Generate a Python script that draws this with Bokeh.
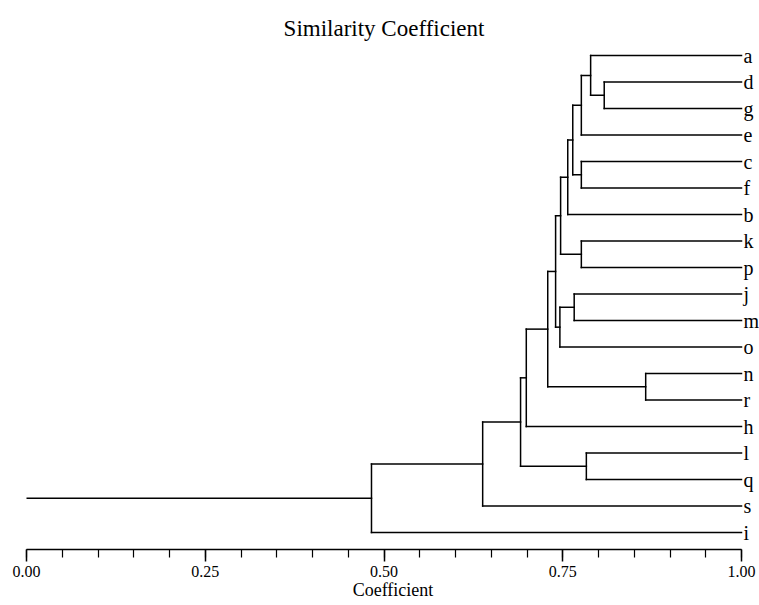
from bokeh.plotting import figure
from bokeh.models import Range1d, SingleIntervalTicker, PrintfTickFormatter
from bokeh.core.properties import value
from bokeh.embed import file_html
from bokeh.resources import INLINE

title_text = "Similarity Coefficient"
axis_title = "Coefficient"
tick_interval = 0.25

leaves = ["a", "d", "g", "e", "c", "f", "b", "k", "p", "j", "m", "o", "n", "r", "h", "l", "q", "s", "i"]
# merge k is called "M{k+1}"
merge_left = ["d", "a", "M2", "c", "M3", "M5", "k", "M6", "j", "M9", "M8", "n", "M11", "M13", "l", "M14", "M16", "M17"]
merge_right = ["g", "M1", "e", "f", "M4", "b", "p", "M7", "m", "o", "M10", "r", "M12", "h", "q", "M15", "s", "i"]
merge_sim = [0.808, 0.789, 0.776, 0.776, 0.764, 0.757, 0.776, 0.747, 0.766, 0.746, 0.740, 0.866, 0.729, 0.699, 0.783, 0.691, 0.638, 0.4825]

FONT = "Liberation Serif"

# build dendrogram segments from the merge table
pos = {name: (1.0, float(i)) for i, name in enumerate(leaves)}
x0, y0, x1, y1 = [], [], [], []
for k, (l, r, h) in enumerate(zip(merge_left, merge_right, merge_sim)):
    xl, yl = pos[l]
    xr, yr = pos[r]
    x0 += [h, h, h]
    y0 += [yl, yr, yl]
    x1 += [xl, xr, h]
    y1 += [yl, yr, yr]
    pos["M%d" % (k + 1)] = (h, (yl + yr) / 2.0)
root_x, root_y = pos["M%d" % len(merge_sim)]
x0.append(0.0); y0.append(root_y); x1.append(root_x); y1.append(root_y)

n = len(leaves)
p = figure(width=759, height=605,
           x_range=Range1d(0, 1.02517), y_range=Range1d(18.64, -2.076),
           y_axis_type=None, output_backend="svg", toolbar_location=None,
           min_border_left=26, min_border_right=0, min_border_top=0, min_border_bottom=56)
p.outline_line_color = None
p.xgrid.visible = False
p.ygrid.visible = False
p.background_fill_color = "white"

p.segment(x0=x0, y0=y0, x1=x1, y1=y1, line_color="black", line_width=1.5, line_cap="square")

p.text(x=[1.0] * n, y=list(range(n)), text=leaves, x_offset=2,
       text_baseline="middle", text_align="left",
       text_font=value(FONT), text_font_size="20px", text_color="black")

p.text(x=[0.5], y=[-1.02], text=[title_text], text_align="center", text_baseline="middle",
       text_font=value(FONT), text_font_size="23px", text_color="black")

ax = p.xaxis[0]
ax.ticker = SingleIntervalTicker(interval=tick_interval, num_minor_ticks=5)
ax.formatter = PrintfTickFormatter(format="%.2f")
ax.bounds = (0, 1)
ax.axis_line_color = "black"
ax.axis_line_width = 1.5
ax.major_tick_line_color = "black"
ax.major_tick_line_width = 1.5
ax.minor_tick_line_color = "black"
ax.minor_tick_line_width = 1.2
ax.major_tick_in = 0
ax.major_tick_out = 12
ax.minor_tick_in = 0
ax.minor_tick_out = 8
ax.major_label_standoff = 4
ax.major_label_text_font = FONT
ax.major_label_text_font_size = "16px"
ax.major_label_text_color = "black"
ax.axis_label = axis_title
ax.axis_label_standoff = 0
ax.axis_label_text_font = FONT
ax.axis_label_text_font_style = "normal"
ax.axis_label_text_font_size = "18px"
ax.axis_label_text_color = "black"

open("out.html", "w").write(file_html(p, INLINE))
